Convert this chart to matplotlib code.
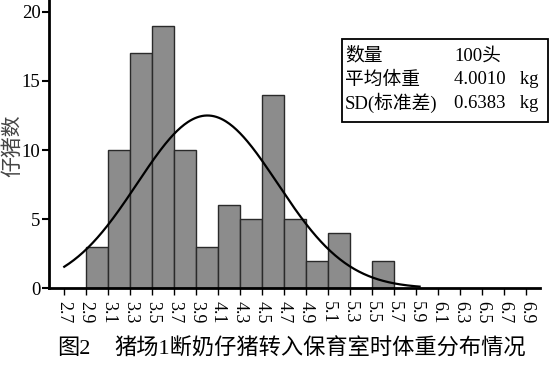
import numpy as np
import matplotlib
matplotlib.use("Agg")
import matplotlib.pyplot as plt
from matplotlib.patches import Rectangle

# Data
bin_edges = [2.9, 3.1, 3.3, 3.5, 3.7, 3.9, 4.1, 4.3, 4.5, 4.7, 4.9, 5.1, 5.3, 5.5, 5.7]
counts = [3, 10, 17, 19, 10, 3, 6, 5, 14, 5, 2, 4, 0, 2]
tick_labels = ["2.7", "2.9", "3.1", "3.3", "3.5", "3.7", "3.9", "4.1", "4.3", "4.5", "4.7",
               "4.9", "5.1", "5.3", "5.5", "5.7", "5.9", "6.1", "6.3", "6.5", "6.7", "6.9"]
n_total = 100
mean_w = 4.0010
sd_w = 0.6383
bin_w = 0.2
curve_range = (2.7, 5.93)

SERIF = ['Liberation Serif', 'Noto Sans CJK SC']
CJK = ['Noto Sans CJK SC', 'DejaVu Sans']

fig = plt.figure(figsize=(5.5, 3.66), dpi=100)
ax = fig.add_axes([0.089, 0.212, 0.893, 0.788])

lefts = np.array(bin_edges[:-1])
ax.bar(lefts, counts, width=bin_w, align='edge', color='#8c8c8c',
       edgecolor='#2a2a2a', linewidth=1.0, zorder=2)

xs = np.linspace(curve_range[0], curve_range[1], 300)
ys = n_total * bin_w / (sd_w * np.sqrt(2 * np.pi)) * np.exp(-0.5 * ((xs - mean_w) / sd_w) ** 2)
ax.plot(xs, ys, color='black', linewidth=1.6, zorder=3)

ax.set_xlim(2.561, 7.025)
ax.set_ylim(0, 20.85)

ticks = [float(t) for t in tick_labels]
ax.set_xticks(ticks)
ax.set_xticklabels(tick_labels, rotation=270, fontsize=13, family=SERIF)
ax.set_yticks([0, 5, 10, 15, 20])
ax.set_yticklabels(['0', '5', '10', '15', '20'], fontsize=13.5, family=SERIF)
ax.tick_params(axis='x', direction='out', length=5, width=1.0, pad=4, color='black')
ax.tick_params(axis='y', direction='out', length=5, width=1.5, pad=1, color='black')

for s in ['top', 'right']:
    ax.spines[s].set_visible(False)
for s in ['left', 'bottom']:
    ax.spines[s].set_linewidth(2.0)

ax.set_ylabel('仔猪数', family=CJK, fontsize=15, color='#444444')
ax.yaxis.set_label_coords(-0.053, 0.495)

# stats box (figure pixel coords converted)
W, H = 550, 366
def fx(px):
    return px / W
def fy(py):
    return 1 - py / H

fig.patches.append(Rectangle((fx(342), fy(122)), fx(548) - fx(342), fy(39) - fy(122),
                             transform=fig.transFigure, fill=False, edgecolor='black',
                             linewidth=1.3))
rows = [("数量", "100头"), ("平均体重", "4.0010   kg"), ("SD(标准差)", "0.6383   kg")]
row_y = [56, 80, 103]
for (a, b), yy in zip(rows, row_y):
    fig.text(fx(345), fy(yy), a, family=SERIF, fontsize=13.5, va='center', ha='left')
    fig.text(fx(454), fy(yy), b, family=SERIF, fontsize=13.5, va='center', ha='left')

fig.text(fx(57), fy(349), '图2', family=SERIF, fontsize=16, va='center', ha='left')
fig.text(fx(114), fy(349), '猪场1断奶仔猪转入保育室时体重分布情况', family=SERIF,
         fontsize=16, va='center', ha='left')

fig.savefig('out.png', dpi=100)
